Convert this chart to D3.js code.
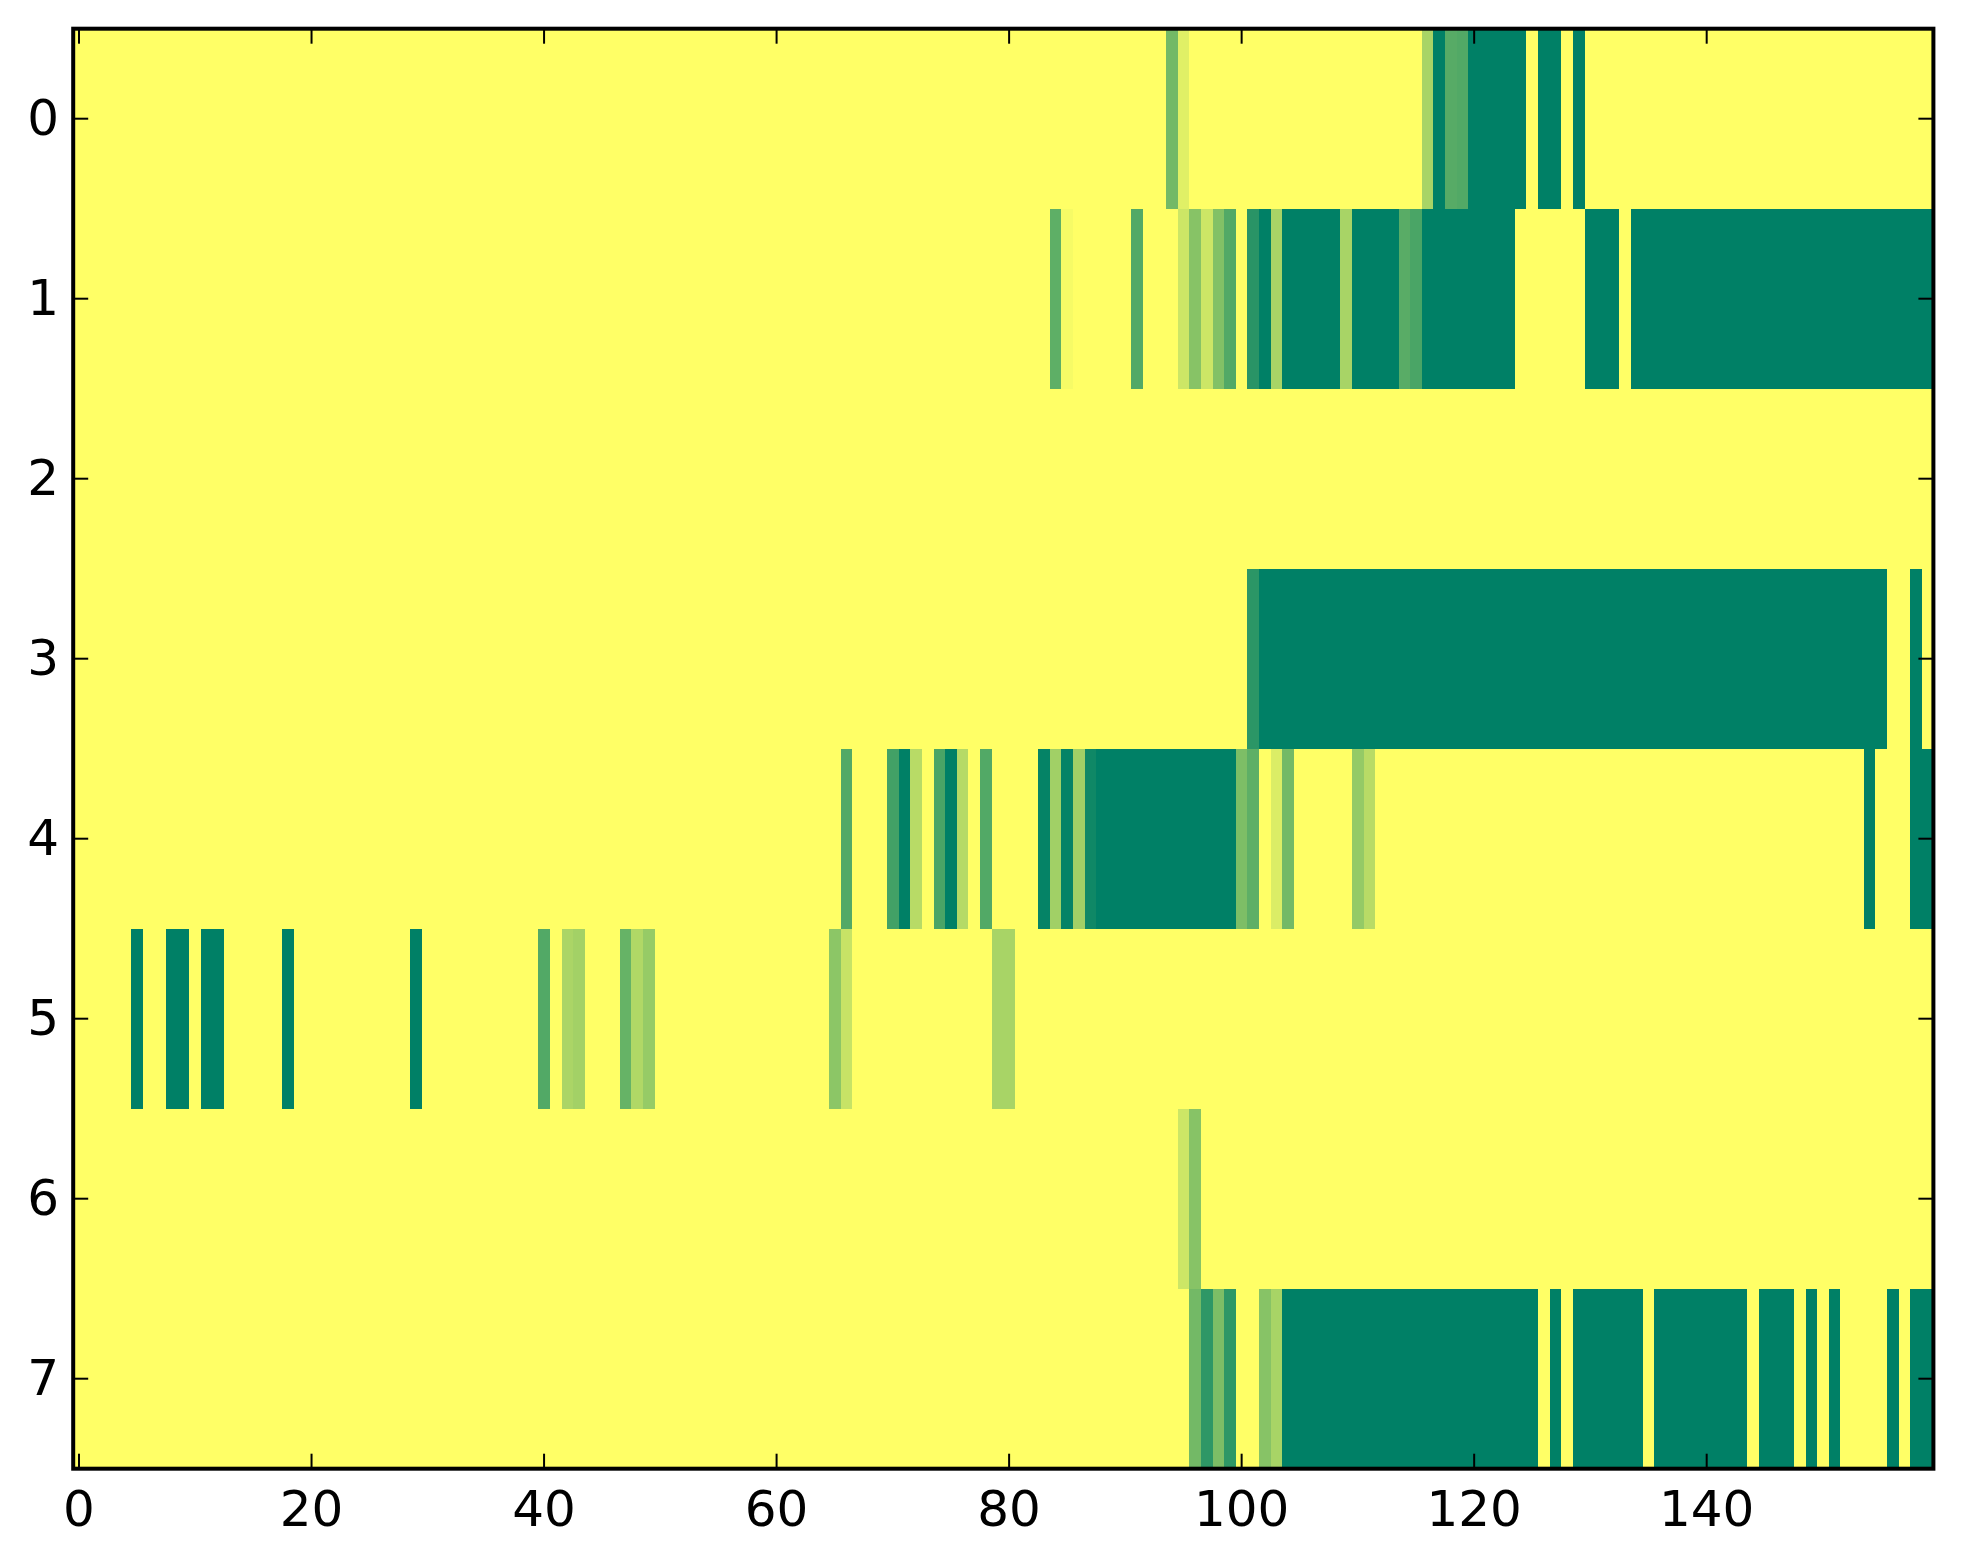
<!DOCTYPE html>
<html lang="en">
<head>
  <meta charset="UTF-8">
  <title>Heatmap</title>
  <script src="https://d3js.org/d3.v7.min.js"></script>
  <style>
    body { margin: 0; background: #fff; }
    svg { display: block; }
    .tick-label { font: 50px "DejaVu Sans", sans-serif; fill: #000; }
  </style>
</head>
<body>
  <div id="chart"></div>
  <script>
    // grid size and tick labels
    const nCols = 160;
    const rowLabels = [0, 1, 2, 3, 4, 5, 6, 7];
    const xTicks = [0, 20, 40, 60, 80, 100, 120, 140];

    // non-zero cells of each row as [column, value]; every other cell is 0
    const row0 = [[94,.55],[95,.12],[116,.34],[117,1],[118,.66],[119,.68],[120,1],[121,1],[122,1],[123,1],[124,1],
      [126,1],[127,1],[129,1]];
    const row1 = [[84,.63],[85,.035],[91,.68],[95,.2],[96,.47],[97,.2],[98,.49],[99,.68],[101,.84],[102,1],[103,.34],
      [104,1],[105,1],[106,1],[107,1],[108,1],[109,.34],[110,1],[111,1],[112,1],[113,1],[114,.65],[115,.71],
      [116,1],[117,1],[118,1],[119,1],[120,1],[121,1],[122,1],[123,1],[130,1],[131,1],[132,1],
      [134,1],[135,1],[136,1],[137,1],[138,1],[139,1],[140,1],[141,1],[142,1],[143,1],[144,1],[145,1],[146,1],
      [147,1],[148,1],[149,1],[150,1],[151,1],[152,1],[153,1],[154,1],[155,1],[156,1],[157,1],[158,1],[159,1]];
    const row2 = [];
    const row3 = [[101,.83],[102,1],[103,1],[104,1],[105,1],[106,1],[107,1],[108,1],[109,1],[110,1],[111,1],[112,1],
      [113,1],[114,1],[115,1],[116,1],[117,1],[118,1],[119,1],[120,1],[121,1],[122,1],[123,1],[124,1],[125,1],
      [126,1],[127,1],[128,1],[129,1],[130,1],[131,1],[132,1],[133,1],[134,1],[135,1],[136,1],[137,1],[138,1],
      [139,1],[140,1],[141,1],[142,1],[143,1],[144,1],[145,1],[146,1],[147,1],[148,1],[149,1],[150,1],[151,1],
      [152,1],[153,1],[154,1],[155,1],[158,1]];
    const row4 = [[66,.68],[70,.74],[71,1],[72,.28],[74,.71],[75,1],[76,.29],[78,.68],[83,.98],[84,.37],[85,.98],
      [86,.37],[87,.94],[88,1],[89,1],[90,1],[91,1],[92,1],[93,1],[94,1],[95,1],[96,1],[97,1],[98,1],[99,1],
      [100,.51],[101,.63],[103,.14],[104,.55],[110,.42],[111,.28],[154,1],[158,1],[159,1]];
    const row5 = [[5,1],[8,1],[9,1],[11,1],[12,1],[18,1],[29,1],[40,.68],[42,.33],[43,.36],[47,.6],[48,.31],[49,.41],
      [65,.45],[66,.22],[79,.34],[80,.34]];
    const row6 = [[95,.2],[96,.47]];
    const row7 = [[96,.55],[97,.82],[98,.51],[99,.82],[102,.47],[103,.34],[104,1],[105,1],[106,1],[107,1],[108,1],
      [109,1],[110,1],[111,1],[112,1],[113,1],[114,1],[115,1],[116,1],[117,1],[118,1],[119,1],[120,1],[121,1],
      [122,1],[123,1],[124,1],[125,1],[127,1],[129,1],[130,1],[131,1],[132,1],[133,1],[134,1],[136,1],[137,1],
      [138,1],[139,1],[140,1],[141,1],[142,1],[143,1],[145,1],[146,1],[147,1],[149,1],[151,1],[156,1],[158,1],[159,1]];
    const rows = [row0, row1, row2, row3, row4, row5, row6, row7];

    // expand into full cells
    const cells = [];
    rows.forEach((r, ri) => {
      const vals = new Array(nCols).fill(0);
      r.forEach(([c, v]) => vals[c] = v);
      vals.forEach((v, c) => cells.push({ row: ri, col: c, value: v }));
    });

    const W = 1963, H = 1564;
    const pLeft = 73.2, pRight = 1933.4, pTop = 28.7, pBottom = 1468.7;

    const x = d3.scaleLinear().domain([-0.5, nCols - 0.5]).range([pLeft, pRight]);
    const y = d3.scaleLinear().domain([-0.5, rowLabels.length - 0.5]).range([pTop, pBottom]);
    // summer_r: low = yellow, high = green
    const color = d3.scaleLinear().domain([0, 1]).range(['#ffff66', '#008066']);

    const svg = d3.select('#chart').append('svg').attr('width', W).attr('height', H);

    svg.append('g')
      .attr('shape-rendering', 'crispEdges')
      .selectAll('rect')
      .data(cells)
      .join('rect')
      .attr('x', d => x(d.col - 0.5))
      .attr('y', d => y(d.row - 0.5))
      .attr('width', d => x(d.col + 0.5) - x(d.col - 0.5) + 0.3)
      .attr('height', d => y(d.row + 0.5) - y(d.row - 0.5) + 0.3)
      .attr('fill', d => color(d.value));

    const tl = 15;
    const ticks = svg.append('g').attr('stroke', '#000').attr('stroke-width', 2);
    xTicks.forEach(t => {
      ticks.append('line').attr('x1', x(t)).attr('x2', x(t)).attr('y1', pBottom).attr('y2', pBottom - tl);
      ticks.append('line').attr('x1', x(t)).attr('x2', x(t)).attr('y1', pTop).attr('y2', pTop + tl);
    });
    rowLabels.forEach(t => {
      ticks.append('line').attr('x1', pLeft).attr('x2', pLeft + tl).attr('y1', y(t)).attr('y2', y(t));
      ticks.append('line').attr('x1', pRight).attr('x2', pRight - tl).attr('y1', y(t)).attr('y2', y(t));
    });

    svg.append('rect')
      .attr('x', pLeft).attr('y', pTop)
      .attr('width', pRight - pLeft).attr('height', pBottom - pTop)
      .attr('fill', 'none').attr('stroke', '#000').attr('stroke-width', 4);

    svg.append('g').selectAll('text')
      .data(xTicks)
      .join('text')
      .attr('class', 'tick-label')
      .attr('x', d => x(d))
      .attr('y', 1526)
      .attr('text-anchor', 'middle')
      .text(d => d);

    svg.append('g').selectAll('text')
      .data(rowLabels)
      .join('text')
      .attr('class', 'tick-label')
      .attr('x', 59)
      .attr('y', d => y(d) + 16)
      .attr('text-anchor', 'end')
      .text(d => d);
  </script>
</body>
</html>
